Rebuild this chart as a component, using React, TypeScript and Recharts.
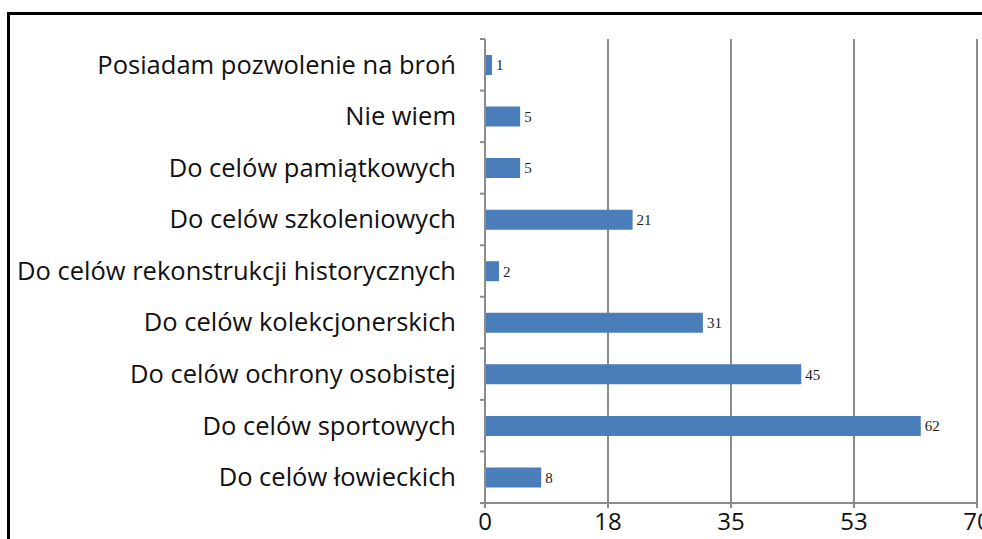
import { BarChart, Bar, XAxis, YAxis, CartesianGrid, LabelList } from 'recharts';

const categories = [
  'Posiadam pozwolenie na broń',
  'Nie wiem',
  'Do celów pamiątkowych',
  'Do celów szkoleniowych',
  'Do celów rekonstrukcji historycznych',
  'Do celów kolekcjonerskich',
  'Do celów ochrony osobistej',
  'Do celów sportowych',
  'Do celów łowieckich',
];

const counts = [1, 5, 5, 21, 2, 31, 45, 62, 8];

const xTicks = [0, 17.5, 35, 52.5, 70];

const data = categories.map((name, i) => ({ name, value: counts[i] }));

const W = 982;
const H = 539;
const MARGIN = { top: 39, right: 5, bottom: 0, left: 0 };
const X_AXIS_H = 36;
const BAND = (H - MARGIN.top - X_AXIS_H) / categories.length;
const GRID = '#8c8c8c';

function CategoryTick(props: any) {
  const { x, y, payload, index } = props;
  return (
    <g>
      <text
        x={x - 29}
        y={y}
        dy="0.35em"
        textAnchor="end"
        fontSize={25.5}
        fontFamily="'Open Sans', sans-serif"
        fill="#111"
      >
        {payload.value}
      </text>
      <line x1={x - 5} x2={x} y1={y - BAND / 2} y2={y - BAND / 2} stroke={GRID} strokeWidth={2} />
      {index === categories.length - 1 && (
        <line x1={x - 5} x2={x} y1={y + BAND / 2} y2={y + BAND / 2} stroke={GRID} strokeWidth={2} />
      )}
    </g>
  );
}

export default function App() {
  return (
    <div style={{ position: 'fixed', left: 0, top: 0, width: W, height: H, overflow: 'hidden', background: '#fff' }}>
      <div
        style={{
          position: 'absolute',
          left: 7,
          top: 12,
          width: W + 20,
          height: H + 20,
          borderTop: '3px solid #000',
          borderLeft: '3px solid #000',
        }}
      />
      <div style={{ position: 'absolute', left: 0, top: 0 }}>
        <BarChart width={W} height={H} data={data} layout="vertical" margin={MARGIN}>
          <CartesianGrid horizontal={false} stroke={GRID} strokeWidth={2} />
          <XAxis
            type="number"
            domain={[0, 70]}
            ticks={xTicks}
            tickFormatter={(v: number) => String(Math.round(v))}
            height={X_AXIS_H}
            axisLine={{ stroke: GRID, strokeWidth: 2 }}
            tickLine={{ stroke: GRID, strokeWidth: 2 }}
            tickSize={5}
            tickMargin={5}
            tick={{ fontSize: 24, fontFamily: "'Open Sans', sans-serif", fill: '#111' }}
            interval={0}
          />
          <YAxis
            type="category"
            dataKey="name"
            width={485}
            axisLine={{ stroke: GRID, strokeWidth: 2 }}
            tickLine={false}
            tickSize={0}
            tickMargin={0}
            tick={<CategoryTick />}
            interval={0}
          />
          <Bar dataKey="value" fill="#4a7ebb" barSize={20} isAnimationActive={false}>
            <LabelList
              dataKey="value"
              position="right"
              offset={4}
              style={{ fontSize: 15, fontFamily: "'Liberation Serif', serif", fill: '#222' }}
            />
          </Bar>
        </BarChart>
      </div>
    </div>
  );
}
